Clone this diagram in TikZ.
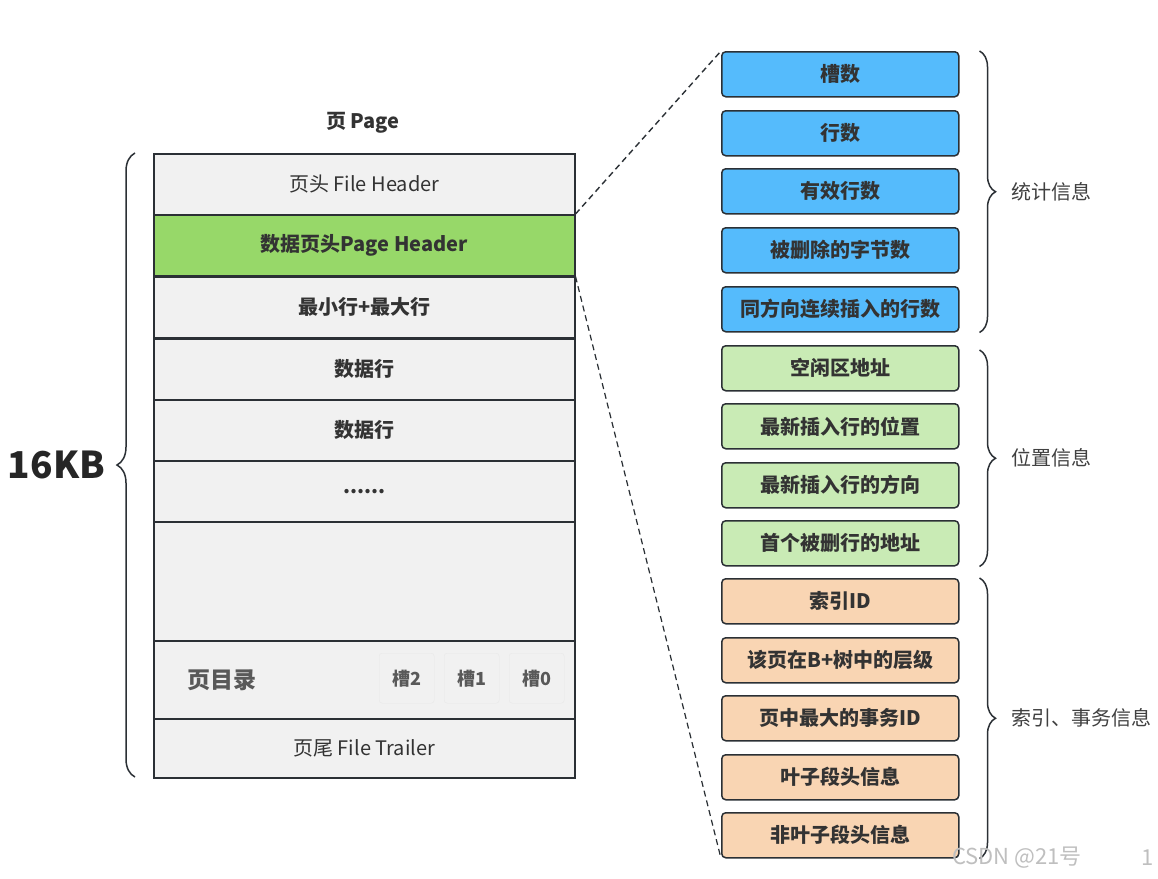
\documentclass[tikz,border=0pt]{standalone}
\usepackage{fontspec}
\setmainfont{Noto Sans CJK SC}
\usepackage{tikz}
\usetikzlibrary{positioning, decorations.pathreplacing}

\definecolor{lineC}{HTML}{2B3035}
\definecolor{greyC}{HTML}{F1F1F1}
\definecolor{hdrC}{HTML}{97D869}
\definecolor{blueC}{HTML}{55BBFC}
\definecolor{greenC}{HTML}{C9EBB5}
\definecolor{orangeC}{HTML}{F9D5B3}
\definecolor{textC}{HTML}{333333}

\tikzset{
  pagerow/.style={draw=lineC, line width=1.5pt, fill=greyC, anchor=north west,
    minimum width=421pt, minimum height=61pt, inner sep=0pt, text=textC,
    font=\fontsize{20}{22}\selectfont},
  slotbox/.style={draw=black!9, fill=greyC, rounded corners=3pt, anchor=north west,
    minimum width=55pt, minimum height=50pt, inner sep=0pt, text=black!65,
    font=\bfseries\fontsize{18}{20}\selectfont},
  infobox/.style={draw=lineC, line width=1.5pt, rounded corners=4pt, anchor=north west,
    minimum width=237pt, minimum height=45pt, inner sep=0pt, text=textC,
    font=\bfseries\fontsize{20}{22}\selectfont},
  infobrace/.style={draw=lineC, line width=1.5pt,
    decorate, decoration={brace, amplitude=16pt}},
  bracelabel/.style={text=black!75, font=\fontsize{20}{22}\selectfont, anchor=west}
}

\begin{document}
\begin{tikzpicture}[x=1pt, y=-1pt]
  \useasboundingbox[fill=white] (0,0) rectangle (1158,878);

  % page
  \node[text=textC, font=\bfseries\fontsize{20}{22}\selectfont] (title) at (363,123) {页 Page};
  \node[pagerow] (fhdr) at (153,153) {页头 File Header};
  \node[pagerow, fill=hdrC, font=\bfseries\fontsize{20}{22}\selectfont] (phdr) at (153,214) {数据页头Page Header};
  \node[pagerow, font=\bfseries\fontsize{20}{22}\selectfont] (minmax) at (153,276) {最小行+最大行};
  \node[pagerow, font=\bfseries\fontsize{20}{22}\selectfont] (rowa) at (153,338) {数据行};
  \node[pagerow, font=\bfseries\fontsize{20}{22}\selectfont] (rowb) at (153,399) {数据行};
  \node[pagerow, font=\bfseries\fontsize{20}{22}\selectfont] (dots) at (153,460) {......};
  \node[pagerow, minimum height=119pt] (free) at (153,521) {};
  \node[pagerow, minimum height=78pt] (dir) at (153,640) {};
  \node[pagerow, minimum height=59pt] (trailer) at (153,718) {页尾 File Trailer};

  \node[text=black!65, font=\bfseries\fontsize{23}{25}\selectfont] (dirlabel) at (222,680) {页目录};
  \node[slotbox] (slot2) at (379,653) {槽2};
  \node[slotbox] (slot1) at (444,653) {槽1};
  \node[slotbox] (slot0) at (509,653) {槽0};

  % 16KB
  \draw[infobrace, decoration={amplitude=18pt}] (135,777) -- (135,153)
    node[midway, left=26pt, text=black!85, font=\bfseries\fontsize{37}{40}\selectfont] (size) {16KB};

  % page header fields
  \node[infobox, fill=blueC] (sa) at (721,51) {槽数};
  \node[infobox, fill=blueC] (sb) at (721,110) {行数};
  \node[infobox, fill=blueC] (sc) at (721,168) {有效行数};
  \node[infobox, fill=blueC] (sd) at (721,227) {被删除的字节数};
  \node[infobox, fill=blueC] (se) at (721,286) {同方向连续插入的行数};

  \node[infobox, fill=greenC] (pa) at (721,345) {空闲区地址};
  \node[infobox, fill=greenC] (pb) at (721,403) {最新插入行的位置};
  \node[infobox, fill=greenC] (pc) at (721,462) {最新插入行的方向};
  \node[infobox, fill=greenC] (pd) at (721,520) {首个被删行的地址};

  \node[infobox, fill=orangeC] (ia) at (721,578) {索引ID};
  \node[infobox, fill=orangeC] (ib) at (721,637) {该页在B+树中的层级};
  \node[infobox, fill=orangeC] (ic) at (721,695) {页中最大的事务ID};
  \node[infobox, fill=orangeC] (id) at (721,754) {叶子段头信息};
  \node[infobox, fill=orangeC] (ie) at (721,812) {非叶子段头信息};

  % zoom lines
  \draw[lineC, line width=1.4pt, dashed, dash pattern=on 6pt off 4pt] (phdr.north east) -- (sa.north west);
  \draw[lineC, line width=1.2pt, dashed, dash pattern=on 6pt off 4pt] (phdr.south east) -- (ie.south west);

  % groups
  \draw[infobrace] ([xshift=20pt]sa.north east) -- ([xshift=20pt]se.south east)
    node[midway, bracelabel, right=28pt] (stat) {统计信息};
  \draw[infobrace] ([xshift=20pt,yshift=-5pt]pa.north east) -- ([xshift=20pt]pd.south east)
    node[midway, bracelabel, right=28pt] (pos) {位置信息};
  \draw[infobrace] ([xshift=20pt]ia.north east) -- ([xshift=20pt]ie.south east)
    node[midway, bracelabel, right=28pt] (idx) {索引、事务信息};

  % watermark
  \node[text=black!25, font=\fontsize{22}{24}\selectfont] (mark) at (1017,858) {CSDN @21号};
  \node[text=black!25, font=\fontsize{22}{24}\selectfont] (markn) at (1148,858) {1};
\end{tikzpicture}
\end{document}
